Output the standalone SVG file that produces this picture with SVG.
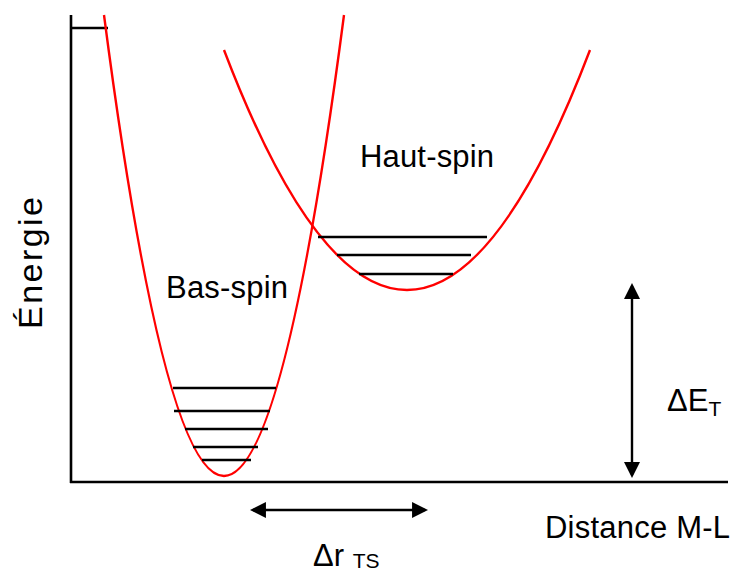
<svg xmlns="http://www.w3.org/2000/svg" width="736" height="572" viewBox="0 0 736 572">
<style>
text{font-family:"Liberation Sans",Arial,sans-serif;fill:#000;font-size:31px}
.sub{font-size:21px}
.ax{stroke:#000;stroke-width:2.6;fill:none}
.curve{stroke:#f00;stroke-width:2.4;fill:none}
.lvl{stroke:#000;stroke-width:2.4}
.arr{stroke:#000;stroke-width:2.4;fill:none;marker-start:url(#ah);marker-end:url(#ah)}
</style>
<defs>
<marker id="ah" viewBox="0 0 10 10" refX="8.1" refY="5" markerUnits="userSpaceOnUse" markerWidth="16" markerHeight="17" orient="auto-start-reverse">
<path d="M0,0 L10,5 L0,10 z" fill="#000"/>
</marker>
</defs>
<rect width="736" height="572" fill="#fff"/>
<g id="axes">
<path class="ax" d="M71,15 V483 M70,482 H728"/>
<path class="ax" d="M71,28 H108"/>
<text transform="translate(42,263) rotate(-90)" text-anchor="middle" style="font-size:34px" textLength="132">Énergie</text>
<text x="545" y="538" textLength="185">Distance M-L</text>
</g>
<g id="bas-spin">
<path class="curve" d="M104,15 Q224,937 344,15"/>
<path class="lvl" d="M173,388 H276 M174,411 H270 M185,429 H268 M193,447 H258 M202,460 H251"/>
<text x="166" y="298" textLength="122">Bas-spin</text>
</g>
<g id="haut-spin">
<path class="curve" d="M224,50 Q407,530 590,50"/>
<path class="lvl" d="M318,237 H487 M337,255 H471 M359,274 H453"/>
<text x="360" y="167" textLength="134">Haut-spin</text>
</g>
<g id="connectors">
<path class="arr" d="M632,286 V475"/>
<path class="arr" d="M253,510 H425"/>
</g>
<g id="labels">
<text x="667" y="411">ΔE<tspan class="sub" dy="5">T</tspan></text>
<text x="313" y="566">Δr <tspan class="sub" dy="2">TS</tspan></text>
</g>
</svg>
